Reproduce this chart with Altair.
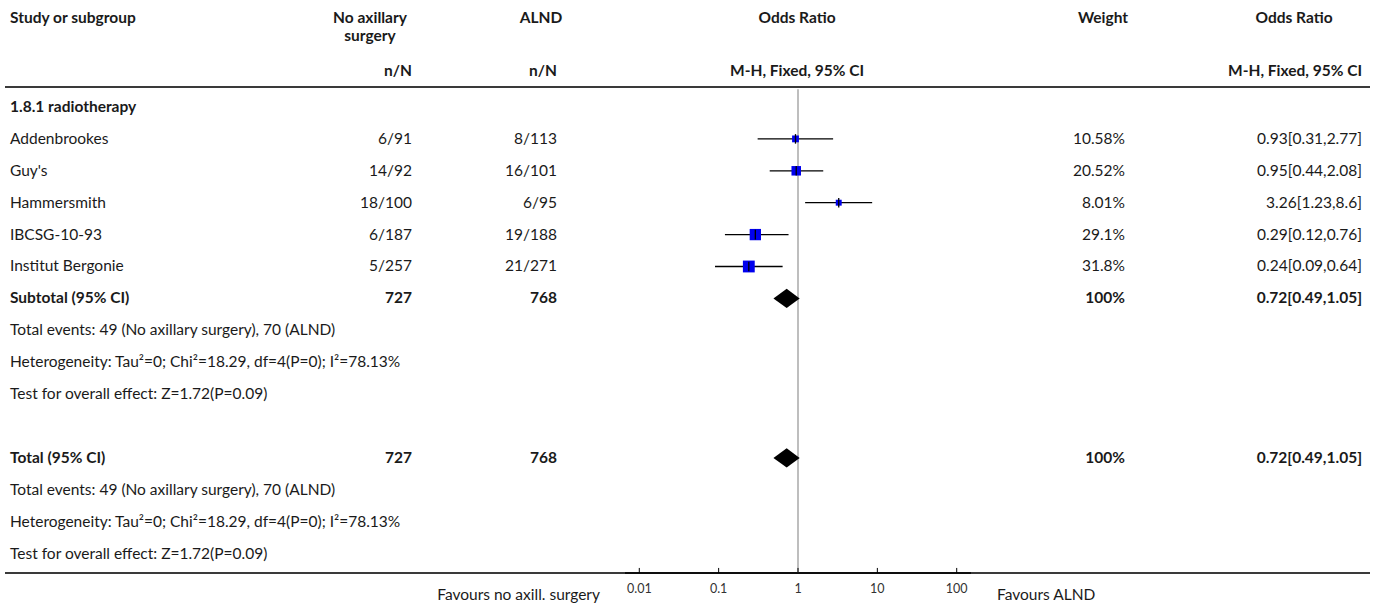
import altair as alt
import pandas as pd

# ---------------- data ----------------
group_label = "1.8.1 radiotherapy"
studies = ["Addenbrookes", "Guy's", "Hammersmith", "IBCSG-10-93", "Institut Bergonie"]
exp_events = ["6/91", "14/92", "18/100", "6/187", "5/257"]
ctrl_events = ["8/113", "16/101", "6/95", "19/188", "21/271"]
weights = [10.58, 20.52, 8.01, 29.1, 31.8]
or_est = [0.93, 0.95, 3.26, 0.29, 0.24]
ci_lo = [0.31, 0.44, 1.23, 0.12, 0.09]
ci_hi = [2.77, 2.08, 8.6, 0.76, 0.64]

summary_labels = ["Subtotal (95% CI)", "Total (95% CI)"]
summary_exp_n = [727, 727]
summary_ctrl_n = [768, 768]
summary_weight = ["100%", "100%"]
summary_est = [0.72, 0.72]
summary_lo = [0.49, 0.49]
summary_hi = [1.05, 1.05]

stat_lines = [
    "Total events: 49 (No axillary surgery), 70 (ALND)",
    "Heterogeneity: Tau\u00b2=0; Chi\u00b2=18.29, df=4(P=0); I\u00b2=78.13%",
    "Test for overall effect: Z=1.72(P=0.09)",
]

tick_values = [0.01, 0.1, 1, 10, 100]
tick_labels = ["0.01", "0.1", "1", "10", "100"]
favours_left = "Favours no axill. surgery"
favours_right = "Favours ALND"

# ---------------- layout ----------------
FONT = "Lato"
FS = 15.5
TXT = "#1a1a1a"
W, H = 1375, 606

# row positions
study_rows = [1, 2, 3, 4, 5]
summary_rows = [6, 11]
stat_rows = [[7, 8, 9], [12, 13, 14]]
R_TITLE, R_TITLE2, R_SUB = -2.79, -2.23, -1.13
R_HLINE, R_BOTTOM = -0.627, 14.608
R_REF_TOP = -0.56
R_TICKTOP, R_TICKLAB, R_FOOT = 14.45, 15.11, 15.30

yscale = alt.Scale(domain=[-3.354, 15.643], range=[0, H], nice=False, zero=False)
xscale = alt.Scale(type="log", domain=[10 ** -2.18, 10 ** 2.18], range=[625, 971], nice=False)


def Y(f):
    return alt.Y(f"{f}:Q", scale=yscale, axis=None)


def X(f):
    return alt.X(f"{f}:Q", scale=xscale, axis=None)


def text_layer(rows, labels, x, align="left", bold=False, size=FS, color=TXT):
    df = pd.DataFrame({"row": rows, "label": labels})
    return alt.Chart(df).mark_text(
        align=align, baseline="middle", font=FONT, fontSize=size,
        fontWeight="bold" if bold else "normal", color=color
    ).encode(x=alt.value(x), y=Y("row"), text="label:N")


layers = []

# headers
layers.append(text_layer([R_TITLE], ["Study or subgroup"], 10, "left", True))
layers.append(text_layer([R_TITLE, R_TITLE2], ["No axillary", "surgery"], 370, "center", True))
layers.append(text_layer([R_TITLE], ["ALND"], 541, "center", True))
layers.append(text_layer([R_TITLE], ["Odds Ratio"], 797, "center", True))
layers.append(text_layer([R_TITLE], ["Weight"], 1103, "center", True))
layers.append(text_layer([R_TITLE], ["Odds Ratio"], 1294, "center", True))
layers.append(text_layer([R_SUB], ["n/N"], 412, "right", True))
layers.append(text_layer([R_SUB], ["n/N"], 557, "right", True))
layers.append(text_layer([R_SUB], ["M-H, Fixed, 95% CI"], 797, "center", True))
layers.append(text_layer([R_SUB], ["M-H, Fixed, 95% CI"], 1362, "right", True))

# group label
layers.append(text_layer([0], [group_label], 10, "left", True))

# study rows
layers.append(text_layer(study_rows, studies, 10, "left"))
layers.append(text_layer(study_rows, exp_events, 412, "right"))
layers.append(text_layer(study_rows, ctrl_events, 557, "right"))
layers.append(text_layer(study_rows, [f"{w:g}%" for w in weights], 1125, "right"))
layers.append(text_layer(study_rows, [f"{e:g}[{l:g},{h:g}]" for e, l, h in zip(or_est, ci_lo, ci_hi)], 1362, "right"))

# summary rows
layers.append(text_layer(summary_rows, summary_labels, 10, "left", True))
layers.append(text_layer(summary_rows, [str(v) for v in summary_exp_n], 412, "right", True))
layers.append(text_layer(summary_rows, [str(v) for v in summary_ctrl_n], 557, "right", True))
layers.append(text_layer(summary_rows, summary_weight, 1125, "right", True))
layers.append(text_layer(summary_rows, [f"{e:g}[{l:g},{h:g}]" for e, l, h in zip(summary_est, summary_lo, summary_hi)], 1362, "right", True))

# stat lines
for rows in stat_rows:
    layers.append(text_layer(rows, stat_lines, 10, "left"))

# horizontal separators
hl = pd.DataFrame({"row": [R_HLINE, R_BOTTOM]})
layers.append(alt.Chart(hl).mark_rule(color="#3a3a3a", strokeWidth=2).encode(
    x=alt.value(5), x2=alt.value(1370), y=Y("row")))

# reference line at OR = 1
ref = pd.DataFrame({"x": [1], "r0": [R_REF_TOP], "r1": [R_BOTTOM]})
layers.append(alt.Chart(ref).mark_rule(color="#a8a8a8", strokeWidth=1.5).encode(
    x=X("x"), y=Y("r0"), y2="r1:Q"))

# axis line, ticks and labels
ax = pd.DataFrame({"x": [10 ** -2.18], "x2": [10 ** 2.18], "row": [R_BOTTOM]})
layers.append(alt.Chart(ax).mark_rule(color="#000", strokeWidth=1.5).encode(
    x=X("x"), x2="x2:Q", y=Y("row")))
tk = pd.DataFrame({"x": tick_values, "label": tick_labels,
                   "r0": [R_TICKTOP] * 5, "r1": [R_BOTTOM] * 5, "rl": [R_TICKLAB] * 5})
layers.append(alt.Chart(tk).mark_rule(color="#000", strokeWidth=1).encode(
    x=X("x"), y=Y("r0"), y2="r1:Q"))
layers.append(alt.Chart(tk).mark_text(font=FONT, fontSize=12.5, color="#333", baseline="middle",
                                      align="center").encode(
    x=X("x"), y=Y("rl"), text="label:N"))

# footer
layers.append(text_layer([R_FOOT], [favours_left], 600, "right"))
layers.append(text_layer([R_FOOT], [favours_right], 997, "left"))

# study CI lines, squares, estimate ticks
st = pd.DataFrame({"row": study_rows, "est": or_est, "lo": ci_lo, "hi": ci_hi, "w": weights})
st["t0"] = st["row"] - 0.15
st["t1"] = st["row"] + 0.15
layers.append(alt.Chart(st).mark_rule(color="#000", strokeWidth=1.3).encode(
    x=X("lo"), x2="hi:Q", y=Y("row")))
layers.append(alt.Chart(st).mark_square(color="#0000ee", filled=True, opacity=1).encode(
    x=X("est"), y=Y("row"),
    size=alt.Size("w:Q", scale=alt.Scale(domain=[0, 31.8], range=[0, 140]), legend=None)))
layers.append(alt.Chart(st).mark_rule(color="#000", strokeWidth=1.3).encode(
    x=X("est"), y=Y("t0"), y2="t1:Q"))

# diamonds
drows = []
for g, (r, e, l, h) in enumerate(zip(summary_rows, summary_est, summary_lo, summary_hi)):
    for xv, k in ((l, 0.0), (e, 1.0), (h, 0.0)):
        drows.append({"g": g, "x": xv, "y0": r - 0.3 * k, "y1": r + 0.3 * k})
dd = pd.DataFrame(drows)
layers.append(alt.Chart(dd).mark_area(color="#000", orient="vertical", opacity=1).encode(
    x=X("x"), y=Y("y0"), y2="y1:Q", detail="g:N"))

chart = alt.layer(*layers).properties(
    width=W, height=H, padding=0, autosize=alt.AutoSizeParams(type="none")
).configure_view(stroke=None)

chart.save("out.html", embed_options={"renderer": "svg", "actions": False})
